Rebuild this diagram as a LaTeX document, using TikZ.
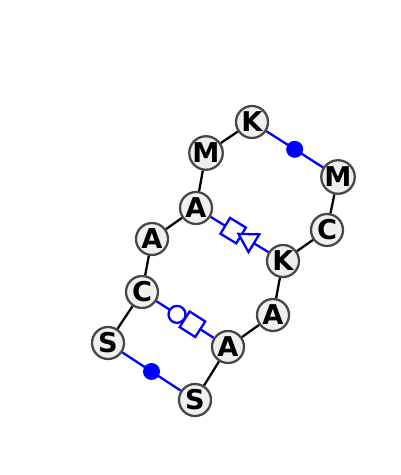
\documentclass[tikz,border=0pt]{standalone}
\usepackage{fontspec}
\setmainfont{DejaVu Sans}
\usetikzlibrary{positioning, shapes.geometric}

\tikzset{
	base/.style={circle, draw=black!72, line width=1.3pt, fill=black!6, minimum size=0.64cm, inner sep=0pt, font=\bfseries\fontsize{15.5}{15.5}\selectfont},
	backbone/.style={draw, black, line width=1.3pt},
	pair/.style={draw, blue, line width=1.3pt},
	dotmark/.style={circle, fill=blue, minimum size=0.34cm, inner sep=0pt},
	ringmark/.style={circle, draw=blue, fill=white, line width=1.3pt, minimum size=0.34cm, inner sep=0pt},
	boxmark/.style={rectangle, draw=blue, fill=white, line width=1.3pt, minimum size=0.37cm, inner sep=0pt, sloped},
	wedgemark/.style={isosceles triangle, isosceles triangle apex angle=60, shape border rotate=180, draw=blue, fill=white, line width=1.3pt, minimum size=0.36cm, inner sep=0pt, sloped}
}

\begin{document}
\begin{tikzpicture}[x=0.02cm, y=-0.02cm]
		
		\useasboundingbox (0,0) rectangle (400,475);
		
		%Strand one
		\node [base] (s1) at (108,343) {S};
		\node [base] (c1) at (142,292) {C};
		\node [base] (a1) at (152,239) {A};
		\node [base] (a2) at (196,208) {A};
		\node [base] (m1) at (206,153) {M};
		\node [base] (k1) at (252,122) {K};
		
		%Strand two
		\node [base] (m2) at (338,177) {M};
		\node [base] (c2) at (327,230) {C};
		\node [base] (k2) at (283,261) {K};
		\node [base] (a3) at (273,315) {A};
		\node [base] (a4) at (228,347) {A};
		\node [base] (s2) at (195,400) {S};
		
		%Backbone
		\path [backbone] (s1) -- (c1) -- (a1) -- (a2) -- (m1) -- (k1);
		\path [backbone] (m2) -- (c2) -- (k2) -- (a3) -- (a4) -- (s2);
		
		%Pairs
		\path [pair] (k1) -- node [dotmark] {} (m2);
		\path [pair] (a2) -- node [boxmark, pos=0.39] {} node [wedgemark, pos=0.66] {} (k2);
		\path [pair] (c1) -- node [ringmark, pos=0.36] {} node [boxmark, pos=0.63] {} (a4);
		\path [pair] (s1) -- node [dotmark] {} (s2);
		
\end{tikzpicture}
\end{document}
